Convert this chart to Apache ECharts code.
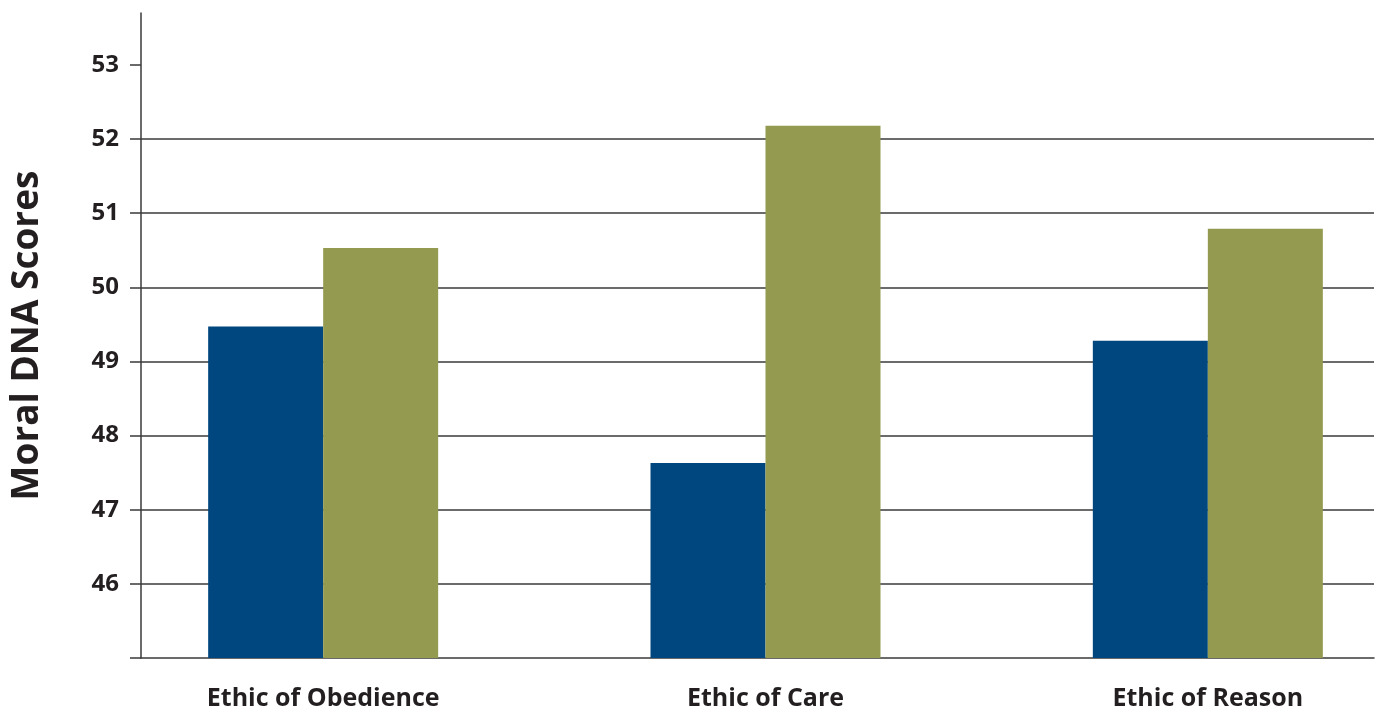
<!DOCTYPE html>
<html>
<head>
<meta charset="utf-8">
<script src="https://cdn.jsdelivr.net/npm/echarts@6/dist/echarts.min.js"></script>
<style>
html,body{margin:0;padding:0;background:#fff;}
#chart{width:1381px;height:709px;}
</style>
</head>
<body>
<div id="chart"></div>
<script>
var categories = ['Ethic of Obedience', 'Ethic of Care', 'Ethic of Reason'];
var seriesBlue = [49.47, 47.63, 49.28];
var seriesGreen = [50.53, 52.18, 50.79];
var yTicks = [45, 46, 47, 48, 49, 50, 51, 52, 53];
var yMin = 45, yMax = 53.7;

var font = '"Open Sans", "Noto Sans", sans-serif';
var textColor = '#231f20';
var lineColor = '#3a3a3a';

var chart = echarts.init(document.getElementById('chart'));
chart.setOption({
  animation: false,
  backgroundColor: '#fff',
  grid: [
    { left: 141, right: 7, top: 13, bottom: 51, containLabel: false, outerBoundsMode: 'none' },
    { left: 102, width: 1327, top: 13, bottom: 51, containLabel: false, outerBoundsMode: 'none' }
  ],
  xAxis: [
    {
      type: 'category', gridIndex: 0, data: categories,
      axisLine: { show: true, lineStyle: { color: lineColor, width: 1.5 } },
      axisTick: { show: false }, axisLabel: { show: false }, splitLine: { show: false }
    },
    {
      type: 'category', gridIndex: 1, data: categories,
      axisLine: { show: false }, axisTick: { show: false }, splitLine: { show: false },
      axisLabel: { fontFamily: font, fontWeight: 'bold', fontSize: 25, color: textColor, margin: 28 }
    }
  ],
  yAxis: [
    {
      type: 'value', gridIndex: 0, min: yMin, max: yMax, interval: 1,
      name: 'Moral DNA Scores', nameLocation: 'middle', nameRotate: 90, nameGap: 95,
      nameTextStyle: { fontFamily: font, fontWeight: 'bold', fontSize: 37, color: textColor },
      axisLine: { show: true, lineStyle: { color: lineColor, width: 1.5 } },
      axisTick: { show: true, inside: false, length: 11, customValues: yTicks, lineStyle: { color: lineColor, width: 1.5 } },
      axisLabel: { customValues: yTicks.slice(1), fontFamily: font, fontWeight: 'bold', fontSize: 24, color: textColor, margin: 22 },
      splitLine: { show: true, showMinLine: false, showMaxLine: false, lineStyle: { color: lineColor, width: 1.5 } }
    },
    {
      type: 'value', gridIndex: 1, min: yMin, max: yMax, interval: 1, show: false,
      splitLine: { show: false }
    }
  ],
  series: [
    {
      type: 'bar', xAxisIndex: 1, yAxisIndex: 1, data: seriesBlue,
      barWidth: 115, barGap: '0%', itemStyle: { color: '#00467f' }
    },
    {
      type: 'bar', xAxisIndex: 1, yAxisIndex: 1, data: seriesGreen,
      barWidth: 115, barGap: '0%', itemStyle: { color: '#949b50' }
    }
  ]
});
</script>
</body>
</html>
